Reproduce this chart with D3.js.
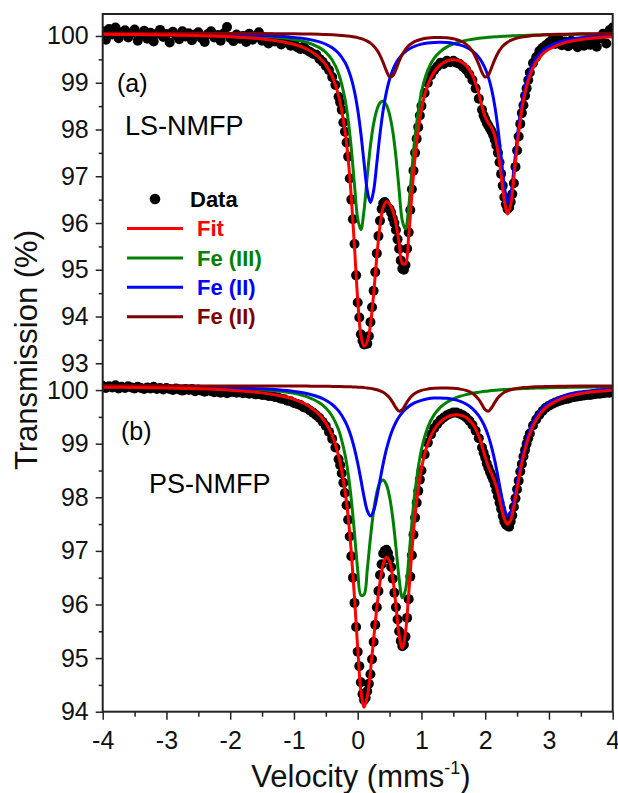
<!DOCTYPE html>
<html>
<head>
<meta charset="utf-8">
<script src="https://cdn.jsdelivr.net/npm/d3@7"></script>
<style>
    html, body {
        margin: 0;
        padding: 0;
        background: #fff;
    }
    svg {
        display: block;
        font-family: Arial, "Liberation Sans", sans-serif;
    }
</style>
</head>
<body>
<script>
    // velocity channels of the measured spectra (mm/s)
    var dataVelocity = [
        -4,-3.95,-3.9,-3.85,-3.8,-3.75,-3.7,-3.65,-3.6,-3.55,-3.5,-3.45,-3.4,-3.35,-3.3,-3.25,-3.2,-3.15,-3.1,-3.05,
        -3,-2.95,-2.9,-2.85,-2.8,-2.75,-2.7,-2.65,-2.6,-2.55,-2.5,-2.45,-2.4,-2.35,-2.3,-2.25,-2.2,-2.15,-2.1,-2.05,
        -2,-1.95,-1.9,-1.85,-1.8,-1.75,-1.7,-1.65,-1.6,-1.55,-1.5,-1.45,-1.4,-1.35,-1.3,-1.25,-1.2,-1.15,-1.1,-1.05,
        -1,-0.95,-0.9,-0.85,-0.8,-0.75,-0.7,-0.65,-0.6,-0.55,-0.5,-0.45,-0.4,-0.35,-0.3,-0.25,-0.2,-0.15,-0.1,-0.05,
        0,0.05,0.1,0.15,0.2,0.25,0.3,0.35,0.4,0.45,0.5,0.55,0.6,0.65,0.7,0.75,0.8,0.85,0.9,0.95,
        1,1.05,1.1,1.15,1.2,1.25,1.3,1.35,1.4,1.45,1.5,1.55,1.6,1.65,1.7,1.75,1.8,1.85,1.9,1.95,
        2,2.05,2.1,2.15,2.2,2.25,2.3,2.35,2.4,2.45,2.5,2.55,2.6,2.65,2.7,2.75,2.8,2.85,2.9,2.95,
        3,3.05,3.1,3.15,3.2,3.25,3.3,3.35,3.4,3.45,3.5,3.55,3.6,3.65,3.7,3.75,3.8,3.85,3.9,3.95,4
    ];

    // (a) LS-NMFP measured transmission (%)
    var aData = [
        100.10,99.92,100.15,100.03,100.18,99.95,100.08,100.12,99.97,100.06,100.14,99.90,100.02,100.11,99.94,100.07,99.88,100.05,100.13,99.98,
        100.04,99.86,100.09,100.01,99.93,100.10,99.99,100.06,99.91,100.03,100.08,99.95,99.87,100.04,100.10,99.97,100.02,99.90,100.06,100.19,
        99.96,99.89,100.03,99.94,100.00,99.87,100.05,99.92,99.98,100.08,99.90,99.95,99.84,99.97,99.88,99.93,99.82,99.90,99.85,99.79,
        99.84,99.76,99.72,99.77,99.70,99.66,99.62,99.60,99.51,99.45,99.36,99.27,99.12,98.95,98.70,98.42,97.95,97.42,96.50,95.55,
        94.30,93.62,93.40,93.42,93.88,94.55,95.35,96.05,96.42,96.38,96.30,96.10,95.85,95.45,95.02,95.10,95.80,96.72,97.50,98.05,
        98.50,98.78,99.00,99.16,99.27,99.35,99.43,99.40,99.47,99.44,99.47,99.43,99.40,99.34,99.28,99.18,99.06,98.88,98.66,98.42,
        98.22,98.08,97.96,97.78,97.50,97.05,96.55,96.30,96.45,96.85,97.55,98.12,98.52,98.88,99.22,99.42,99.55,99.68,99.75,99.80,
        99.86,99.92,99.83,99.95,99.80,99.88,99.78,99.90,99.82,99.76,99.85,99.79,99.92,99.81,99.87,99.77,99.95,100.05,99.84,100.12,100.18
    ];

    // (b) PS-NMFP measured transmission (%)
    var bData = [
        100.08,100.04,100.07,100.05,100.09,100.03,100.06,100.04,100.07,100.05,100.03,100.06,100.04,100.02,100.05,100.03,100.06,100.02,100.04,100.01,
        100.04,100.02,100.00,100.03,100.01,99.99,100.02,100.00,100.02,99.98,100.01,99.99,99.97,100.00,99.98,99.96,99.98,99.95,99.97,99.94,
        99.96,99.97,99.95,99.96,99.94,99.95,99.93,99.94,99.92,99.93,99.91,99.91,99.89,99.89,99.87,99.86,99.84,99.83,99.80,99.79,
        99.76,99.74,99.72,99.68,99.66,99.62,99.58,99.53,99.48,99.41,99.33,99.22,99.09,98.93,98.71,98.45,98.08,97.58,96.90,96.03,
        95.12,94.55,94.22,94.38,94.70,95.30,95.95,96.55,96.95,97.02,96.85,96.48,95.95,95.50,95.22,95.40,96.10,96.92,97.62,98.12,
        98.50,98.80,99.02,99.17,99.29,99.37,99.44,99.49,99.53,99.56,99.58,99.58,99.56,99.53,99.49,99.43,99.35,99.24,99.10,98.93,
        98.74,98.55,98.40,98.24,98.02,97.78,97.55,97.47,97.55,97.82,98.15,98.48,98.76,99.00,99.19,99.34,99.45,99.54,99.61,99.67,
        99.71,99.74,99.77,99.79,99.81,99.83,99.84,99.86,99.87,99.88,99.89,99.90,99.91,99.91,99.92,99.93,99.93,99.94,99.95,99.95,99.96
    ];

    // extra channels read inside the absorption dips, where the points spread apart
    var dipVelocity = [
        -0.275,-0.225,-0.175,-0.125,-0.075,-0.025,0.025,0.075,0.125,0.175,0.225,0.275,0.325,
        0.375,0.425,0.475,0.525,0.575,0.625,0.675,0.725,0.775,0.825,0.875,0.925,0.975,
        1.975,2.025,2.075,2.125,2.175,2.225,2.275,2.325,2.375,2.425,2.475,2.525,2.575,2.625,2.675
    ];
    var aDipData = [
        98.58,98.15,97.72,96.95,96.08,94.88,93.98,93.48,93.45,93.58,94.20,94.95,95.72,
        96.30,96.45,96.32,96.22,96.00,95.65,95.20,95.00,95.45,96.28,97.12,97.80,98.30,
        98.30,98.14,98.02,97.88,97.66,97.30,96.80,96.40,96.33,96.62,97.20,97.85,98.35,98.72,99.06
    ];
    var bDipData = [
        98.60,98.27,97.85,97.27,96.50,95.58,94.85,94.33,94.26,94.52,94.98,95.62,96.25,
        96.75,97.00,96.96,96.70,96.22,95.72,95.32,95.25,95.75,96.52,97.30,97.90,98.33,
        98.83,98.63,98.47,98.33,98.13,97.90,97.65,97.49,97.45,97.66,97.98,98.31,98.62,98.88,99.10
    ];

    var curveVelocity = [
        -4,-3.5,-3,-2.5,-2,-1.5,-1.25,-1,-0.8,-0.6,-0.5,-0.4,-0.3,
        -0.2,-0.15,-0.1,-0.05,0,0.05,0.1,0.15,0.2,0.25,0.3,0.35,0.4,0.45,0.5,0.55,0.6,0.65,0.7,0.75,0.8,0.85,0.9,
        1,1.1,1.2,1.3,1.4,1.5,1.6,1.7,1.8,1.9,
        1.95,2,2.05,2.1,2.15,2.2,2.25,2.3,2.35,2.4,2.45,2.5,2.55,2.6,
        2.7,2.8,2.9,3,3.25,3.5,3.75,4
    ];

    var aFit = [
        100.037,100.031,100.022,100.008,99.984,99.936,99.894,99.822,99.722,99.539,99.383,99.137,98.727,
        97.978,97.375,96.543,95.479,94.364,93.597,93.366,93.465,93.819,94.485,95.283,95.941,96.331,96.457,96.405,96.26,95.996,95.567,95.138,95.133,95.734,96.61,97.403,
        98.433,98.955,99.233,99.385,99.465,99.491,99.465,99.372,99.164,98.763,
        98.497,98.269,98.137,98.041,97.863,97.523,97.022,96.482,96.19,96.39,96.973,97.635,98.196,98.619,
        99.151,99.44,99.611,99.716,99.857,99.923,99.96,99.983
    ];
    var aFe3 = [
        100.048,100.045,100.04,100.033,100.02,99.993,99.968,99.926,99.866,99.751,99.649,99.485,99.199,
        98.657,98.208,97.586,96.81,96.092,95.858,96.278,97.001,97.657,98.126,98.418,98.57,98.603,98.524,98.32,97.962,97.415,96.704,96.047,95.87,96.347,97.132,97.856,
        98.797,99.271,99.525,99.673,99.767,99.83,99.874,99.906,99.93,99.95,
        99.957,99.964,99.971,99.976,99.982,99.986,99.991,99.994,99.998,100.001,100.004,100.007,100.01,100.012,
        100.017,100.02,100.024,100.026,100.032,100.036,100.04,100.043
    ];
    var aFe2 = [
        100.05,100.048,100.045,100.039,100.03,100.012,99.996,99.97,99.935,99.873,99.823,99.747,99.631,
        99.436,99.289,99.088,98.811,98.428,97.914,97.286,96.694,96.435,96.692,97.282,97.906,98.419,98.799,99.074,99.272,99.416,99.524,99.605,99.668,99.715,99.753,99.783,
        99.825,99.849,99.862,99.865,99.858,99.841,99.81,99.76,99.678,99.542,
        99.44,99.304,99.119,98.862,98.505,98.02,97.411,96.794,96.446,96.605,97.157,97.795,98.336,98.744,
        99.253,99.526,99.684,99.781,99.906,99.962,99.991,100.009
    ];
    var aFe2b = [
        100.058,100.057,100.057,100.056,100.054,100.051,100.049,100.046,100.042,100.035,100.031,100.025,100.017,
        100.005,99.998,99.989,99.978,99.964,99.945,99.922,99.89,99.847,99.787,99.703,99.585,99.429,99.254,99.131,99.146,99.285,99.459,99.606,99.715,99.792,99.845,99.884,
        99.931,99.955,99.966,99.967,99.96,99.94,99.901,99.826,99.676,99.391,
        99.22,99.121,99.167,99.323,99.496,99.637,99.74,99.814,99.866,99.904,99.932,99.953,99.97,99.983,
        100.001,100.014,100.023,100.029,100.039,100.045,100.049,100.051
    ];

    var bFit = [
        100.055,100.049,100.039,100.024,99.998,99.948,99.903,99.828,99.727,99.541,99.387,99.153,98.777,
        98.131,97.636,96.973,96.127,95.179,94.392,94.082,94.281,94.768,95.358,95.939,96.422,96.748,96.883,96.804,96.494,95.981,95.43,95.182,95.484,96.198,96.99,97.658,
        98.535,99.003,99.264,99.413,99.497,99.536,99.535,99.49,99.376,99.143,
        98.96,98.752,98.571,98.438,98.29,98.08,97.826,97.598,97.495,97.579,97.83,98.157,98.486,98.77,
        99.186,99.447,99.61,99.717,99.863,99.934,99.973,99.997
    ];
    var bFe3 = [
        100.067,100.064,100.059,100.05,100.036,100.008,99.982,99.938,99.877,99.763,99.665,99.513,99.259,
        98.803,98.443,97.952,97.324,96.646,96.172,96.188,96.649,97.245,97.748,98.089,98.274,98.321,98.234,98.004,97.613,97.07,96.481,96.126,96.272,96.842,97.525,98.114,
        98.892,99.307,99.541,99.682,99.774,99.837,99.882,99.916,99.941,99.961,
        99.969,99.977,99.983,99.99,99.995,100.0,100.005,100.009,100.013,100.016,100.02,100.022,100.026,100.028,
        100.032,100.037,100.04,100.043,100.05,100.054,100.058,100.061
    ];
    var bFe2 = [
        100.069,100.066,100.062,100.055,100.045,100.024,100.005,99.975,99.936,99.866,99.811,99.731,99.611,
        99.424,99.291,99.121,98.905,98.639,98.329,98.008,97.752,97.651,97.749,98.003,98.321,98.628,98.892,99.104,99.271,99.401,99.502,99.581,99.644,99.694,99.733,99.764,
        99.809,99.837,99.851,99.854,99.846,99.827,99.794,99.74,99.655,99.52,
        99.423,99.3,99.141,98.938,98.685,98.384,98.064,97.79,97.655,97.716,97.949,98.263,98.58,98.856,
        99.26,99.51,99.666,99.767,99.902,99.966,100.0,100.02
    ];
    var bFe2b = [
        100.079,100.079,100.079,100.078,100.078,100.077,100.076,100.075,100.074,100.072,100.071,100.069,100.067,
        100.064,100.062,100.06,100.058,100.054,100.051,100.046,100.04,100.032,100.021,100.007,99.987,99.959,99.917,99.856,99.77,99.67,99.607,99.635,99.728,99.822,99.892,99.94,
        99.994,100.019,100.032,100.037,100.037,100.032,100.019,99.994,99.94,99.822,
        99.728,99.635,99.607,99.67,99.77,99.856,99.917,99.959,99.987,100.007,100.021,100.032,100.04,100.046,
        100.054,100.06,100.064,100.067,100.071,100.074,100.075,100.076
    ];

    var xTicks = [-4, -3, -2, -1, 0, 1, 2, 3, 4];
    var xMinor = [-3.5, -2.5, -1.5, -0.5, 0.5, 1.5, 2.5, 3.5];
    var aTicks = [93, 94, 95, 96, 97, 98, 99, 100];
    var aMinor = [93.5, 94.5, 95.5, 96.5, 97.5, 98.5, 99.5];
    var bTicks = [94, 95, 96, 97, 98, 99, 100];
    var bMinor = [94.5, 95.5, 96.5, 97.5, 98.5, 99.5];

    var legendNames = ["Fit", "Fe (III)", "Fe (II)", "Fe (II)"];
    var colors = ["#ff0000", "#008000", "#0000ff", "#800000"];

    var width = 618;
    var height = 793;
    var plotLeft = 102.7, plotRight = 612.7, plotTop = 14, plotBottom = 711.7;

    var svg = d3.select("body").append("svg")
        .attr("width", width)
        .attr("height", height);

    var x = d3.scaleLinear().domain([-4, 4]).range([plotLeft, plotRight]);
    var yA = d3.scaleLinear().domain([92.7, 100.47]).range([377.3, plotTop]);
    var yB = d3.scaleLinear().domain([94, 100.3]).range([plotBottom, 374]);

    svg.append("clipPath").attr("id", "plotclip")
        .append("rect")
        .attr("x", plotLeft).attr("y", plotTop)
        .attr("width", plotRight - plotLeft).attr("height", plotBottom - plotTop);

    var plot = svg.append("g").attr("clip-path", "url(#plotclip)");

    function drawDots(y, vel, data) {
        plot.append("g").selectAll("circle")
            .data(data)
            .enter().append("circle")
            .attr("cx", function (d, i) { return x(vel[i]); })
            .attr("cy", function (d) { return y(d); })
            .attr("r", 5)
            .attr("fill", "#000");
    }

    function drawPanel(y, data, dipData, curves) {
        drawDots(y, dataVelocity, data);
        drawDots(y, dipVelocity, dipData);

        var line = d3.line()
            .x(function (d, i) { return x(curveVelocity[i]); })
            .y(function (d) { return y(d); })
            .curve(d3.curveCatmullRom.alpha(0.5));

        // draw order: Fe(III), Fe(II), Fe(II) second site, then fit on top
        [1, 2, 3, 0].forEach(function (k) {
            plot.append("path")
                .datum(curves[k])
                .attr("d", line)
                .attr("fill", "none")
                .attr("stroke", colors[k])
                .attr("stroke-width", 3);
        });
    }

    drawPanel(yA, aData, aDipData, [aFit, aFe3, aFe2, aFe2b]);
    drawPanel(yB, bData, bDipData, [bFit, bFe3, bFe2, bFe2b]);

    function styleAxis(g) {
        g.select(".domain").remove();
        g.selectAll("line").attr("stroke", "#222").attr("stroke-width", 1.5);
        g.selectAll("text").attr("fill", "#111").style("font-size", "25px")
            .style("font-family", "Arial, 'Liberation Sans', sans-serif");
    }

    var plainFormat = function (d) { return String(d); };

    // y axes
    [[yA, aTicks, aMinor], [yB, bTicks, bMinor]].forEach(function (p) {
        svg.append("g")
            .attr("transform", "translate(" + plotLeft + ",0)")
            .call(d3.axisLeft(p[0]).tickValues(p[1]).tickSize(7).tickPadding(7).tickFormat(plainFormat))
            .call(styleAxis);
        svg.append("g")
            .attr("transform", "translate(" + plotLeft + ",0)")
            .call(d3.axisLeft(p[0]).tickValues(p[2]).tickSize(4).tickFormat(""))
            .call(styleAxis);
    });

    // x axis
    svg.append("g")
        .attr("transform", "translate(0," + plotBottom + ")")
        .call(d3.axisBottom(x).tickValues(xTicks).tickSize(8).tickPadding(12).tickFormat(plainFormat))
        .call(styleAxis);
    svg.append("g")
        .attr("transform", "translate(0," + plotBottom + ")")
        .call(d3.axisBottom(x).tickValues(xMinor).tickSize(5).tickFormat(""))
        .call(styleAxis);

    // frame
    svg.append("rect")
        .attr("x", plotLeft).attr("y", plotTop)
        .attr("width", plotRight - plotLeft).attr("height", plotBottom - plotTop)
        .attr("fill", "none")
        .attr("stroke", "#222")
        .attr("stroke-width", 2);

    // axis titles
    svg.append("text")
        .attr("transform", "translate(37,350) rotate(-90)")
        .attr("text-anchor", "middle")
        .style("font-size", "31px")
        .attr("fill", "#111")
        .text("Transmission (%)");

    var xt = svg.append("text")
        .attr("x", 361).attr("y", 787)
        .attr("text-anchor", "middle")
        .style("font-size", "31px")
        .attr("fill", "#111");
    xt.append("tspan").text("Velocity (mms");
    xt.append("tspan").attr("dy", -13).style("font-size", "18px").text("-1");
    xt.append("tspan").attr("dy", 13).text(")");

    // panel labels
    svg.append("text").attr("x", 117).attr("y", 92).style("font-size", "25px").text("(a)");
    svg.append("text").attr("x", 125).attr("y", 135).style("font-size", "27px").text("LS-NMFP");
    svg.append("text").attr("x", 121).attr("y", 440).style("font-size", "25px").text("(b)");
    svg.append("text").attr("x", 149).attr("y", 493).style("font-size", "27px").text("PS-NMFP");

    // legend
    var legend = svg.append("g").style("font-size", "22px").style("font-weight", "bold");
    legend.append("circle").attr("cx", 155).attr("cy", 199).attr("r", 5.3).attr("fill", "#000");
    legend.append("text").attr("x", 190).attr("y", 199).attr("dy", "0.35em").text("Data");
    legendNames.forEach(function (name, i) {
        var yy = 228.5 + i * 29.4;
        legend.append("line")
            .attr("x1", 127).attr("x2", 183)
            .attr("y1", yy).attr("y2", yy)
            .attr("stroke", colors[i]).attr("stroke-width", 3);
        legend.append("text")
            .attr("x", 197).attr("y", yy).attr("dy", "0.35em")
            .attr("fill", colors[i])
            .text(name);
    });
</script>
</body>
</html>
